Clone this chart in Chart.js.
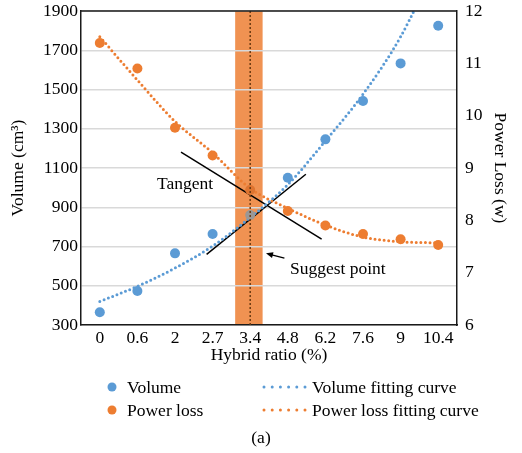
<!DOCTYPE html>
<html><head><meta charset="utf-8">
<script src="https://cdn.jsdelivr.net/npm/chart.js@4.4.0/dist/chart.umd.min.js"></script>
<style>html,body{margin:0;padding:0;background:#fff}</style>
</head><body>
<canvas id="c" width="522" height="453" style="width:522px;height:453px;display:block"></canvas>
<script>
// ---------- data ----------
const categories   = ['0','0.6','2','2.7','3.4','4.8','6.2','7.6','9','10.4'];
const volume       = [365, 473, 665, 764, 860, 1050, 1246, 1441, 1633, 1825];
const powerLoss    = [11.39, 10.90, 9.77, 9.24, 8.58, 8.18, 7.90, 7.74, 7.64, 7.53];
const volumeFit    = [420, 497, 590, 702, 848, 1015, 1238, 1476, 1769, 2160];
const powerLossFit = [11.51, 10.68, 9.89, 9.29, 8.61, 8.23, 7.91, 7.68, 7.59, 7.57];
const volumeRange  = [300, 1900, 200];
const powerRange   = [6, 12, 1];
const tangentA     = [{x: 2.16, y: 1181}, {x: 5.90, y: 738}];
const tangentB     = [{x: 2.84, y: 660},  {x: 5.48, y: 1068}];
const suggestBand  = [3.6, 4.33];
const suggestIndex = 4;
const arrowPts     = [{x: 4.91, y: 641}, {x: 4.42, y: 665}];
const notes        = [{text: 'Tangent', x: 2.27, y: 1018}, {text: 'Suggest point', x: 6.33, y: 585}];

// ---------- style ----------
const FONT = 'Liberation Serif';
const FS = 17.5;
const BLUE = '#5B9BD5';
const ORANGE = '#ED7D31';
const BAND = 'rgba(237,125,49,0.84)';
Chart.defaults.font.family = FONT;
Chart.defaults.font.size = FS;
Chart.defaults.color = '#000';

const inBand = i => i >= suggestBand[0] && i <= suggestBand[1];

const annotate = {
  id: 'annotate',
  beforeDraw(chart) {
    const {ctx, chartArea: a, scales} = chart;
    const xl = scales.xl;
    const x0 = xl.getPixelForValue(suggestBand[0]);
    const x1 = xl.getPixelForValue(suggestBand[1]);
    ctx.save();
    ctx.fillStyle = BAND;
    ctx.fillRect(x0, a.top, x1 - x0, a.bottom - a.top);
    ctx.restore();
  },
  afterDatasetsDraw(chart) {
    const {ctx, chartArea: a, scales} = chart;
    const xl = scales.xl, y = scales.y;
    ctx.save();
    // dotted centre line
    const xc = scales.x.getPixelForValue(suggestIndex);
    ctx.strokeStyle = '#6b3a12';
    ctx.lineWidth = 1.5;
    ctx.setLineDash([2, 2]);
    ctx.beginPath(); ctx.moveTo(xc, a.top); ctx.lineTo(xc, a.bottom); ctx.stroke();
    ctx.setLineDash([]);
    // top border
    ctx.strokeStyle = '#1a1a1a';
    ctx.lineWidth = 1.5;
    ctx.beginPath(); ctx.moveTo(a.left, a.top); ctx.lineTo(a.right, a.top); ctx.stroke();
    // arrow
    const tx = xl.getPixelForValue(arrowPts[0].x), ty = y.getPixelForValue(arrowPts[0].y);
    const hx = xl.getPixelForValue(arrowPts[1].x), hy = y.getPixelForValue(arrowPts[1].y);
    ctx.strokeStyle = '#000'; ctx.fillStyle = '#000'; ctx.lineWidth = 1.3;
    const ang = Math.atan2(hy - ty, hx - tx);
    ctx.beginPath(); ctx.moveTo(tx, ty); ctx.lineTo(hx - 4 * Math.cos(ang), hy - 4 * Math.sin(ang)); ctx.stroke();
    ctx.beginPath();
    ctx.moveTo(hx, hy);
    ctx.lineTo(hx - 7 * Math.cos(ang) + 3 * Math.sin(ang), hy - 7 * Math.sin(ang) - 3 * Math.cos(ang));
    ctx.lineTo(hx - 7 * Math.cos(ang) - 3 * Math.sin(ang), hy - 7 * Math.sin(ang) + 3 * Math.cos(ang));
    ctx.closePath(); ctx.fill();
    // notes
    ctx.font = FS + 'px "' + FONT + '"';
    ctx.textAlign = 'center'; ctx.textBaseline = 'middle';
    notes.forEach(n => ctx.fillText(n.text, xl.getPixelForValue(n.x), y.getPixelForValue(n.y)));
    ctx.restore();
  },
  afterDraw(chart) {
    const {ctx} = chart;
    const ds = chart.data.datasets;
    const rows = [387, 410];
    const col1Marker = 112, col1Text = 127, col2Start = 264, col2End = 305, col2Text = 312;
    ctx.save();
    ctx.font = FS + 'px "' + FONT + '"';
    ctx.textBaseline = 'middle'; ctx.textAlign = 'left'; ctx.fillStyle = '#000';
    [0, 1].forEach(r => {
      const pt = ds[r], ln = ds[r + 2], yy = rows[r];
      ctx.fillStyle = pt.borderColor;
      ctx.beginPath(); ctx.arc(col1Marker, yy, 4.5, 0, Math.PI * 2); ctx.fill();
      ctx.fillStyle = '#000';
      ctx.fillText(pt.label, col1Text, yy + 1);
      ctx.strokeStyle = ln.borderColor; ctx.lineWidth = 3; ctx.lineCap = 'round';
      ctx.setLineDash([0, 8.2]);
      ctx.beginPath(); ctx.moveTo(col2Start, yy); ctx.lineTo(col2End, yy); ctx.stroke();
      ctx.setLineDash([]);
      ctx.fillText(ln.label, col2Text, yy + 1);
    });
    ctx.restore();
  }
};

const noVPad = s => { s.paddingTop = 0; s.paddingBottom = 0; };

new Chart(document.getElementById('c'), {
  type: 'line',
  data: {
    labels: categories,
    datasets: [
      {label: 'Volume', data: volume, yAxisID: 'y', showLine: false, borderColor: BLUE,
       pointRadius: 5, pointBorderWidth: 0,
       pointBackgroundColor: c => inBand(c.dataIndex) ? '#9a9796' : BLUE},
      {label: 'Power loss', data: powerLoss, yAxisID: 'y1', showLine: false, borderColor: ORANGE,
       pointRadius: 5, pointBorderWidth: 0,
       pointBackgroundColor: c => inBand(c.dataIndex) ? '#de7430' : ORANGE},
      {label: 'Volume fitting curve', data: volumeFit, yAxisID: 'y', borderColor: BLUE,
       borderWidth: 3, borderDash: [0, 4.6], borderCapStyle: 'round', pointRadius: 0,
       cubicInterpolationMode: 'monotone', fill: false},
      {label: 'Power loss fitting curve', data: powerLossFit, yAxisID: 'y1', borderColor: ORANGE,
       borderWidth: 3, borderDash: [0, 4.6], borderCapStyle: 'round', pointRadius: 0,
       cubicInterpolationMode: 'monotone', fill: false},
      {label: 'tangentA', data: tangentA, xAxisID: 'xl', yAxisID: 'y', borderColor: '#000',
       borderWidth: 1.5, pointRadius: 0},
      {label: 'tangentB', data: tangentB, xAxisID: 'xl', yAxisID: 'y', borderColor: '#000',
       borderWidth: 1.5, pointRadius: 0}
    ]
  },
  options: {
    responsive: false,
    animation: false,
    devicePixelRatio: 1,
    layout: {padding: {top: 11, left: 0, right: 0, bottom: 0}},
    plugins: {
      legend: {display: false},
      tooltip: {enabled: false},
      title: {display: true, text: '(a)', position: 'bottom', color: '#000',
              font: {size: FS, weight: 'normal'}, padding: {top: 52.5, bottom: 4.5}}
    },
    scales: {
      x: {type: 'category', offset: true,
          grid: {drawOnChartArea: false, drawTicks: false},
          border: {color: '#1a1a1a', width: 1.5},
          ticks: {padding: 3, color: '#000', maxRotation: 0, autoSkip: false},
          title: {display: true, text: 'Hybrid ratio (%)', color: '#000', padding: {top: 0, bottom: 9.5}},
          afterFit: s => { s.height = 50; s.paddingLeft = 0; s.paddingRight = 0; }},
      xl: {type: 'linear', min: -0.5, max: 9.5, display: false},
      y: {position: 'left', min: volumeRange[0], max: volumeRange[1],
          ticks: {stepSize: volumeRange[2], padding: 3, color: '#000', callback: v => String(v)},
          grid: {color: '#d9d9d9', lineWidth: 1.5, drawTicks: false},
          border: {color: '#1a1a1a', width: 1.5},
          title: {display: true, text: 'Volume (cm³)', color: '#000', padding: {top: 7.5, bottom: 0}},
          afterFit: s => { s.width = 81; noVPad(s); }},
      y1: {position: 'right', min: powerRange[0], max: powerRange[1],
          ticks: {stepSize: powerRange[2], padding: 8, color: '#000', callback: v => String(v)},
          grid: {drawOnChartArea: false, drawTicks: false},
          border: {color: '#1a1a1a', width: 1.5},
          title: {display: true, text: 'Power Loss (w)', color: '#000', padding: {top: 11.5, bottom: 0}},
          afterFit: s => { s.width = 65; noVPad(s); }}
    }
  },
  plugins: [annotate]
});
</script>
</body></html>
